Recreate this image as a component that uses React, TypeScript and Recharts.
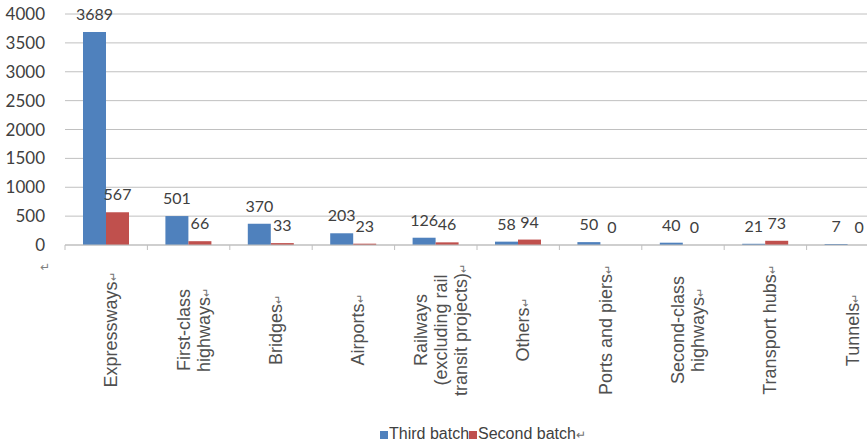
import { BarChart, Bar, XAxis, YAxis, CartesianGrid, Legend, LabelList } from 'recharts';

const categories = [
    'Expressways\u21B5',
    'First-class\nhighways\u21B5',
    'Bridges\u21B5',
    'Airports\u21B5',
    'Railways\n(excluding rail\ntransit projects)\u21B5',
    'Others\u21B5',
    'Ports and piers\u21B5',
    'Second-class\nhighways\u21B5',
    'Transport hubs\u21B5',
    'Tunnels\u21B5',
];
const thirdBatch = [3689, 501, 370, 203, 126, 58, 50, 40, 21, 7];
const secondBatch = [567, 66, 33, 23, 46, 94, 0, 0, 73, 0];
const yTicks = [0, 500, 1000, 1500, 2000, 2500, 3000, 3500, 4000];
const seriesNames = ['Third batch', 'Second batch\u21B5'];

const BLUE = '#4f81bd';
const RED = '#c0504d';
const ARROW = '\u21B5';

const CHART_W = 900;
const MARGIN = { top: 14, right: 11, left: 0, bottom: 0 };
const Y_W = 65;
const BAND = (CHART_W - MARGIN.left - MARGIN.right - Y_W) / categories.length;

const data = categories.map((name, i) => ({
    name,
    third: thirdBatch[i],
    second: secondBatch[i],
}));

function CategoryTick(props: any) {
    const { x, y, payload } = props;
    const lines = String(payload.value).split('\n');
    const cy = y + 85;
    const lh = 20;
    return (
        <g>
            <line x1={x - BAND / 2} y1={y} x2={x - BAND / 2} y2={y + 5} stroke="#bfbfbf" />
            <text
                x={x}
                y={cy}
                transform={`rotate(-90 ${x} ${cy})`}
                textAnchor="middle"
                fill="#505050"
                fontSize={18}
                fontFamily="'Liberation Sans', Arial, sans-serif"
            >
                {lines.map((l, i) => {
                    const hasArrow = l.endsWith(ARROW);
                    return (
                        <tspan key={i} x={x} dy={i === 0 ? 11 - ((lines.length - 1) / 2) * lh : lh}>
                            {hasArrow ? l.slice(0, -1) : l}
                            {hasArrow && (
                                <tspan fontSize={11} fill="#707070">
                                    {ARROW}
                                </tspan>
                            )}
                        </tspan>
                    );
                })}
            </text>
        </g>
    );
}

function LegendContent() {
    return (
        <div
            style={{
                height: 22,
                lineHeight: '22px',
                paddingLeft: 380,
                fontFamily: "'Liberation Sans', Arial, sans-serif",
                fontSize: 16,
                color: '#404040',
                whiteSpace: 'nowrap',
            }}
        >
            <span style={{ display: 'inline-block', width: 8, height: 8, background: BLUE, marginRight: 1 }} />
            {seriesNames[0]}
            <span style={{ display: 'inline-block', width: 8, height: 8, background: RED, marginRight: 1 }} />
            {seriesNames[1].slice(0, -1)}
            <span style={{ fontSize: 12, color: '#707070' }}>{ARROW}</span>
        </div>
    );
}

export default function App() {
    return (
        <div
            style={{
                position: 'fixed',
                left: 0,
                top: 0,
                width: 867,
                height: 445,
                overflow: 'hidden',
                background: '#fff',
            }}
        >
            <BarChart width={CHART_W} height={445} data={data} margin={MARGIN} barGap={0} barSize={23}>
                <CartesianGrid vertical={false} stroke="#c0c0c0" />
                <XAxis
                    dataKey="name"
                    interval={0}
                    height={178}
                    axisLine={{ stroke: '#bfbfbf' }}
                    tickLine={false}
                    tickSize={0}
                    tickMargin={0}
                    tick={<CategoryTick />}
                />
                <YAxis
                    width={Y_W}
                    domain={[0, 4000]}
                    ticks={yTicks}
                    axisLine={false}
                    tickLine={false}
                    tickMargin={14}
                    tick={{ fill: '#404040', fontSize: 17, fontFamily: 'Lato, sans-serif' }}
                />
                <Legend verticalAlign="bottom" content={<LegendContent />} />
                <Bar dataKey="third" fill={BLUE} isAnimationActive={false} name={seriesNames[0]} minPointSize={1}>
                    <LabelList dataKey="third" position="top" offset={12} fill="#404040" fontSize={16} fontFamily="Lato, sans-serif" />
                </Bar>
                <Bar dataKey="second" fill={RED} isAnimationActive={false} name={seriesNames[1]} minPointSize={(v: number) => (v === 0 ? 0.01 : 0)}>
                    <LabelList dataKey="second" position="top" offset={12} fill="#404040" fontSize={16} fontFamily="Lato, sans-serif" />
                </Bar>
            </BarChart>
            <span
                style={{
                    position: 'absolute',
                    left: 40,
                    top: 260,
                    fontSize: 12,
                    color: '#808080',
                    fontFamily: "'DejaVu Sans', sans-serif",
                }}
            >
                {ARROW}
            </span>
        </div>
    );
}
